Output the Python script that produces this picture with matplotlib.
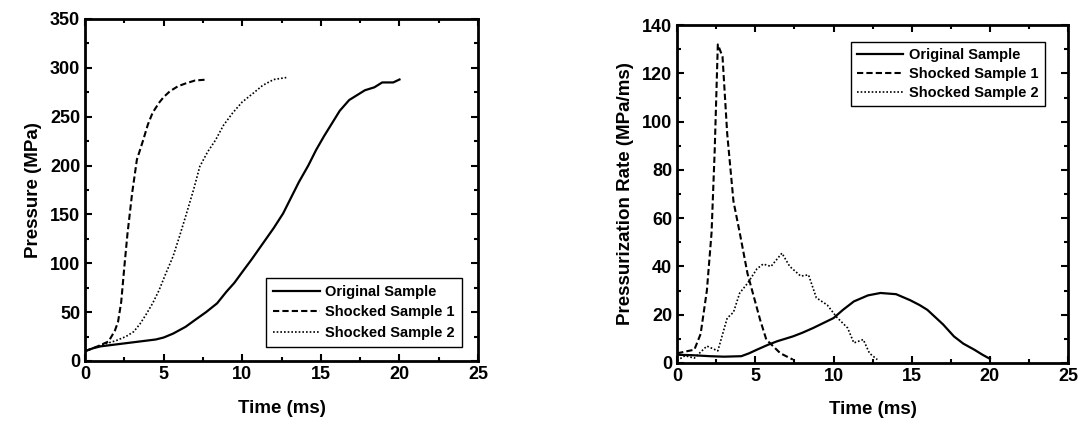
import numpy as np
import matplotlib
matplotlib.use("Agg")
import matplotlib.pyplot as plt
from matplotlib.ticker import MultipleLocator

plt.rcParams['font.family'] = ['Liberation Sans', 'DejaVu Sans']
plt.rcParams['font.weight'] = 'bold'

# Presion (MPa) frente al tiempo (ms)
t_orig = [0, 0.5, 1, 2, 3, 4, 4.5, 5.0, 5.6, 6.4, 7.0, 7.7, 8.4, 9.0, 9.5, 10.0, 10.6, 11.3, 12.0, 12.6, 13.1, 13.6, 14.2, 14.7, 15.2, 15.7, 16.2, 16.8, 17.3, 17.8, 18.4, 18.9, 19.6, 20]
p_orig = [10, 13, 15, 17, 19, 21, 22, 24, 28, 35, 42, 50, 59, 71, 80, 91, 104, 120, 136, 151, 167, 183, 200, 216, 230, 243, 256, 267, 272, 277, 280, 285, 285, 288]

t_s1 = [0, 0.8, 1.5, 1.9, 2.1, 2.3, 2.5, 2.7, 3.0, 3.3, 3.7, 4.0, 4.3, 4.7, 5.0, 5.4, 5.9, 6.4, 7.0, 7.8]
p_s1 = [10, 15, 20, 31, 40, 60, 96, 130, 172, 206, 226, 242, 254, 264, 270, 276, 281, 284, 287, 288]

t_s2 = [0, 1, 2, 2.6, 3.1, 3.5, 3.9, 4.3, 4.7, 5.1, 5.6, 6.0, 6.4, 6.9, 7.3, 7.8, 8.3, 8.8, 9.4, 10.0, 10.7, 11.3, 12.0, 12.8]
p_s2 = [10, 16, 21, 25, 30, 38, 48, 59, 72, 88, 107, 127, 148, 175, 199, 214, 226, 241, 254, 265, 274, 282, 288, 290]

# Velocidad de presurizacion (MPa/ms)
tr_orig = [0, 1, 2.1, 3, 4.1, 4.6, 5.1, 5.8, 6.4, 7.4, 8.0, 8.7, 10, 10.6, 11.3, 12.2, 13, 14, 14.9, 15.5, 16, 16.5, 17, 17.7, 18.3, 19, 19.5, 20]
r_orig = [3.4, 3.2, 2.8, 2.6, 2.8, 4.0, 5.5, 7.5, 9, 11, 12.5, 14.5, 18.6, 22, 25.5, 28, 29, 28.5, 26, 24, 22, 19, 16, 11, 8, 5.5, 3.5, 1.7]

tr_s1 = [0, 1.1, 1.5, 1.9, 2.2, 2.4, 2.6, 2.9, 3.2, 3.6, 4.0, 4.5, 5.3, 5.7, 6.6, 7.4]
r_s1 = [4, 5.5, 12, 30, 54, 88, 132, 127, 95, 67, 54, 37, 18, 9.7, 4, 1.4]

tr_s2 = [0, 0.5, 1.1, 1.9, 2.6, 3.2, 3.6, 4.0, 4.5, 5.1, 5.5, 6.0, 6.7, 7.2, 7.9, 8.4, 8.9, 9.6, 10.2, 10.9, 11.3, 11.9, 12.3, 12.8]
r_s2 = [1, 3, 2, 7, 5, 18.6, 21, 29, 33, 39, 41, 40, 45.5, 40, 36, 36.5, 27, 24, 19, 14.5, 8.3, 9.7, 4, 1.4]

labels = ["Original Sample", "Shocked Sample 1", "Shocked Sample 2"]


def style_axes(ax, ymax, ymaj, ymin_step):
    ax.set_xlim(0, 25)
    ax.set_ylim(0, ymax)
    ax.xaxis.set_major_locator(MultipleLocator(5))
    ax.xaxis.set_minor_locator(MultipleLocator(2.5))
    ax.yaxis.set_major_locator(MultipleLocator(ymaj))
    ax.yaxis.set_minor_locator(MultipleLocator(ymin_step))
    ax.tick_params(which='both', direction='in', top=True, right=True, width=1.5, labelsize=13)
    ax.tick_params(which='major', length=5)
    ax.tick_params(which='minor', length=3)
    for s in ax.spines.values():
        s.set_linewidth(2)
    for lab in ax.get_xticklabels() + ax.get_yticklabels():
        lab.set_fontweight('bold')
    ax.set_xlabel("Time (ms)", fontsize=13.5, fontweight='bold', labelpad=12)


fig = plt.figure(figsize=(10.8, 4.26), dpi=100)
ax1 = fig.add_axes([0.0787, 0.1526, 0.364, 0.803])
ax2 = fig.add_axes([0.627, 0.148, 0.362, 0.793])

ax1.plot(t_orig, p_orig, 'k-', lw=1.6, label=labels[0])
ax1.plot(t_s1, p_s1, 'k', ls=(0, (3, 1.5)), lw=1.5, label=labels[1])
ax1.plot(t_s2, p_s2, 'k', ls=(0, (1, 1.2)), lw=1.2, label=labels[2])
style_axes(ax1, 350, 50, 25)
ax1.set_ylabel("Pressure (MPa)", fontsize=13.5, fontweight='bold', labelpad=6)
leg1 = ax1.legend(loc='lower right', bbox_to_anchor=(0.96, 0.04), borderaxespad=0, fancybox=False,
                  edgecolor='black', framealpha=1, prop={'weight': 'bold', 'size': 10.5},
                  handlelength=3.2, handletextpad=0.4, borderpad=0.5, labelspacing=0.45)
leg1.get_frame().set_linewidth(1)

ax2.plot(tr_orig, r_orig, 'k-', lw=1.6, label=labels[0])
ax2.plot(tr_s1, r_s1, 'k', ls=(0, (3, 1.5)), lw=1.5, label=labels[1])
ax2.plot(tr_s2, r_s2, 'k', ls=(0, (1, 1.2)), lw=1.2, label=labels[2])
style_axes(ax2, 140, 20, 10)
ax2.set_ylabel("Pressurization Rate (MPa/ms)", fontsize=13.5, fontweight='bold', labelpad=6)
leg2 = ax2.legend(loc='upper right', bbox_to_anchor=(0.94, 0.95), borderaxespad=0, fancybox=False,
                  edgecolor='black', framealpha=1, prop={'weight': 'bold', 'size': 10.5},
                  handlelength=3.2, handletextpad=0.4, borderpad=0.4, labelspacing=0.35)
leg2.get_frame().set_linewidth(1)

plt.savefig('out.png', dpi=100)
